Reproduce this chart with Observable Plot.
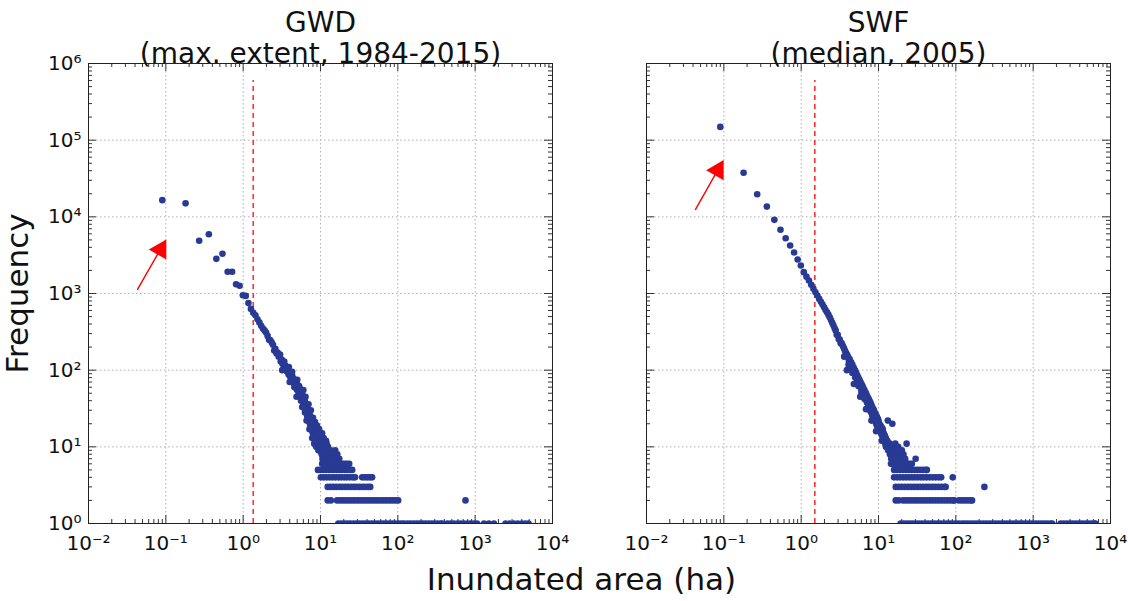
<!DOCTYPE html>
<html>
<head>
<meta charset="utf-8">
<script src="https://cdn.jsdelivr.net/npm/d3@7"></script>
<script src="https://cdn.jsdelivr.net/npm/@observablehq/plot@0.6"></script>
<style>
  html, body { margin: 0; padding: 0; background: #fff; }
  #chart { width: 1128px; height: 601px; }
</style>
</head>
<body>
<div id="chart"></div>
<script>
// ---- panels & text ----
const panelNames = ["GWD", "SWF"];
const panelSubtitles = ["(max. extent, 1984-2015)", "(median, 2005)"];
const xLabel = "Inundated area (ha)";
const yLabel = "Frequency";
const xTickValues = [0.01, 0.1, 1, 10, 100, 1000, 10000];
const yTickValues = [1, 10, 100, 1000, 10000, 100000, 1000000];

// ---- red dashed cut-off lines ----
const cutoffPanel = ["GWD", "SWF"];
const cutoffArea = [1.35, 1.5];
const cutoffTop = 6e5;

// ---- red arrows (start -> tip) ----
const arrowPanel = ["GWD", "SWF"];
const arrowX1 = [0.0427, 0.0427];
const arrowY1 = [1117, 12350];
const arrowX2 = [0.099, 0.097];
const arrowY2 = [4910, 53200];

// ---- GWD: head + main band ----
const gwdArea = [0.09,0.18,0.27,0.36,0.45,0.54,0.63,0.72,0.81,0.90,0.99,1.08,1.17,
  1.26,1.35,1.44,1.53,1.62,1.71,1.80,1.89,1.98,2.07,2.16,2.25,2.34,2.43,2.52,2.61,2.70,2.79,2.88,2.97,
  3.06,3.15,3.24,3.33,3.42,3.51,3.60,3.69,3.78,3.87,3.96,4.05,4.14,4.23,4.32,4.41,4.50,4.59,4.68,4.77,
  4.86,4.95,5.04,5.13,5.22,5.31,5.40,5.49,5.58,5.67,5.76,5.85,5.94,6.03,6.12,6.21,6.30,6.39,6.48,6.57,
  6.66,6.75,6.84,6.93,7.02,7.11,7.20,7.29,7.38,7.47,7.56,7.65,7.74,7.83,7.92,8.01,8.10,8.19,8.28,8.37,
  8.46,8.55,8.64,8.73,8.82,8.91,9.00,9.09,9.18,9.27,9.36,9.45,9.54,9.63,9.72,9.81,9.90,9.99,10.08,10.17,
  10.26,10.35,10.44,10.53,10.62,10.71,10.80,10.89,10.98,11.07,11.16,11.25,11.34,11.43];
const gwdFreq = [16500,15000,4870,5940,2830,3300,1920,1920,1320,1260,950,930,750,
  630,560,520,460,420,380,350,330,310,280,
  250,245,230,215,180,190,165,170,150,155,
  130,138,120,126,110,115,105,96,100,88,
  95,82,90,76,84,70,77,65,72,60,
  68,56,64,53,60,48,57,46,55,43,
  50,40,46,36,42,33,39,30,36,28,
  34,25,31,24,29,22,27,20,25,19,
  23,18,21,16,20,15,19,14,17,13,
  18,14,16,12,15,11,14,12,13,10,
  16,11,12,9,14,10,12,11,9,13,
  10,12,8,11,9,10,8,9,7,10,
  8,9,7,8];
// scattered points at the edges of the GWD band
const gwdSpreadArea = [3.0,3.4,3.2,3.9,4.3,4.0,4.6,5.0,5.3,4.9,5.6,6.0,6.4,5.8,6.3,7.0,6.6,7.5,7.2,8.0,8.5,7.8,8.3,9.0,9.6,8.8,9.4,10.5,11.0,11.8,12.5,13.5,14.5,15.5,16.5,17.5,12.0];
const gwdSpreadFreq = [160,130,100,110,95,70,60,75,62,45,40,55,45,33,28,36,22,30,17,24,21,13,11,19,17,10,9,15,13,12,10,9,8,9,8,7,11];
// GWD low-frequency rows (areas having that count)
const gwdRow9 = [10.2,10.8,11.5,12.1,12.9];
const gwdRow8 = [10.4,11.0,11.7,12.4,13.2,14.1];
const gwdRow7 = [10.6,11.3,12.0,12.7,13.5,14.4,15.3,16.2];
const gwdRow6 = [10.5,11.2,11.9,12.6,13.3,14.2,15.1,16.0,17.0,18.1,19.3,20.5,22.0,23.5];
const gwdRow5 = [9.27,10.0,10.9,11.8,12.8,13.9,15.0,16.3,17.6,19.1,20.7,22.4,24.3,25.7];
const gwdRow4 = [10.1,11.0,12.0,13.1,14.3,15.6,17.0,18.5,20.2,22.0,24.0,26.2,28.0,34.6,37.5,40.5,43.5,46.5];
const gwdRow3 = [12.4,13.5,14.7,16.0,17.5,19.0,20.7,22.6,24.6,26.8,29.2,31.8,34.7,37.8,41.2,44.0];
const gwdRow2 = [12.4,13.6,16.4,17.9,19.5,21.3,23.2,25.3,27.6,30.1,32.8,35.8,39.0,42.5,46.4,50.6,55.1,60.1,65.5,71.4,77.9,84.9,92.6,101,750];
const gwdRow1 = [17,18.6,20.3,22.2,24.3,26.6,29.1,31.8,34.8,38.0,41.6,45.5,49.7,54.4,59.4,65.0,71.1,77.7,85.0,92.9,
  102,111,121,133,145,159,174,190,208,227,248,272,297,325,355,375,
  435,480,530,590,650,720,800,880,970,1060,1300,1500,1750,2470,2800,3150,3550,4000,4450,4900];

// ---- SWF: head + main band ----
const swfArea = [0.09,0.18,0.27,0.36,0.45,0.54,0.63,0.72,0.81,0.90,0.99,1.08,
  1.17,1.26,1.35,1.44,1.53,1.62,1.71,1.80,1.89,1.98,
  2.07,2.16,2.25,2.34,2.43,2.52,2.61,2.70,2.79,2.88,
  2.97,3.06,3.15,3.24,3.33,3.42,3.51,3.60,3.69,3.78,
  3.87,3.96,4.05,4.14,4.23,4.32,4.41,4.50,4.59,4.68,
  4.77,4.86,4.95,5.04,5.13,5.22,5.31,5.40,5.49,5.58,
  5.67,5.76,5.85,5.94,6.03,6.12,6.21,6.30,6.39,6.48,
  6.57,6.66,6.75,6.84,6.93,7.02,7.11,7.20,7.29,7.38,
  7.47,7.56,7.65,7.74,7.83,7.92,8.01,8.10,8.19,8.28,
  8.37,8.46,8.55,8.64,8.73,8.82,8.91,9.00,9.09,9.18,
  9.27,9.36,9.45,9.54,9.63,9.72,9.81,9.90,9.99,
  10.08,10.26,10.44,10.62,10.80,10.98,11.16,11.34,11.52,11.70,11.88,12.06,12.24,12.42,12.60,
  12.78,12.96,13.14,13.32,13.50,13.68,13.86,14.04,14.22,14.40,14.58,
  13.2,15.1,23.1];
const swfFreq = [149000,37500,19700,13600,9140,6770,5260,4230,3430,2780,2320,1900,
  1660,1480,1300,1150,1040,940,850,780,720,660,
  610,570,530,490,450,415,385,355,330,290,
  290,255,250,225,225,213,200,190,178,170,
  162,155,148,133,140,120,128,110,118,100,
  108,92,100,85,93,78,86,72,80,67,
  75,62,70,58,66,54,62,50,58,47,
  55,44,52,42,49,39,46,37,44,35,
  42,33,40,31,38,29,36,28,34,26,
  32,25,31,24,30,23,28,22,27,21,
  26,20,25,19,24,18,23,18,22,
  17,20,16,19,15,18,14,17,13,15,12,14,11,13,10,
  12,10,11,9,11,9,10,8,10,9,8,
  22,20,11];
// scattered points at the edges of the SWF band
const swfSpreadArea = [3.6,4.1,3.9,4.6,5.0,4.8,5.5,6.0,5.8,6.6,7.2,6.9,7.8,8.4,8.1,9.2,9.8,9.3,10.6,11.5,11.0,12.2,13.0,12.5,14.0,15.0,16.0,17.5,19.5,21.0,16.5,18.0,20.0,22.0,24.0,27.0];
const swfSpreadFreq = [150,118,100,92,80,66,62,52,45,42,38,31,30,27,22,22,19,16,16,14,12,13,12,10,11,10,9,9,8,8,11,10,9,7,6,6];
const swfRow9 = [15.0,16.5,18.0];
const swfRow8 = [14.8,16.0,17.5,19.0];
const swfRow7 = [14.6,15.8,17.2,18.7,20.3,22.0,30.2];
const swfRow6 = [14.5,15.7,17.0,18.5,20.0,21.8,23.6,25.5];
const swfRow5 = [15.9,17.3,18.9,20.6,22.4,24.4,26.6,29.0,31.6,34.4,37.5,40.9,42.2];
const swfRow4 = [15.9,17.4,19.0,20.8,22.7,24.8,27.1,29.6,32.3,35.3,38.5,42.1,46.0,50.2,54.8,59.9,64.6,91.2];
const swfRow3 = [16.7,18.3,20.0,21.9,24.0,26.3,28.8,31.5,34.5,37.8,41.4,45.3,49.6,54.3,59.5,65.1,71.3,73.8,234];
const swfRow2 = [16.7,18.2,20.7,22.6,24.7,27.0,29.5,32.2,35.2,38.4,41.9,45.8,50.0,54.6,59.6,65.1,71.1,77.6,84.8,
  92.6,94.6,109.6,119.6,130.6,142.6,155.6,162];
const swfRow1 = [19.3,21.2,23.2,25.4,27.8,30.5,33.4,36.6,40.1,43.9,48.1,52.7,57.7,63.2,69.2,75.8,83.0,90.9,99.6,
  109,120,131,143,157,172,188,206,226,247,271,297,325,356,390,427,468,512,561,614,673,737,807,884,968,
  1060,1160,1270,1390,1520,1670,1760,2260,2480,2720,2980,3260,3570,3910,4280,4690,5140,5630,6170,6400];

// ---- build tables ----
const points = [];
function addSeries(panel, areas, freqs) {
  areas.forEach((a, i) => points.push({panel, area: a, freq: Array.isArray(freqs) ? freqs[i] : freqs}));
}
addSeries("GWD", gwdArea, gwdFreq);
addSeries("GWD", gwdSpreadArea, gwdSpreadFreq);
[[gwdRow9,9],[gwdRow8,8],[gwdRow7,7],[gwdRow6,6],[gwdRow5,5],[gwdRow4,4],[gwdRow3,3],[gwdRow2,2],[gwdRow1,1]]
  .forEach(([a, f]) => addSeries("GWD", a, f));
addSeries("SWF", swfArea, swfFreq);
addSeries("SWF", swfSpreadArea, swfSpreadFreq);
[[swfRow9,9],[swfRow8,8],[swfRow7,7],[swfRow6,6],[swfRow5,5],[swfRow4,4],[swfRow3,3],[swfRow2,2],[swfRow1,1]]
  .forEach(([a, f]) => addSeries("SWF", a, f));

const cutoffs = cutoffPanel.map((p, i) => ({panel: p, area: cutoffArea[i]}));
const arrows = arrowPanel.map((p, i) => ({panel: p, x1: arrowX1[i], y1: arrowY1[i], x2: arrowX2[i], y2: arrowY2[i]}));

// minor ticks (axis decoration)
const xMinor = [], yMinor = [];
for (let k = -2; k <= 3; k++) for (let m = 2; m <= 9; m++) xMinor.push(m * Math.pow(10, k));
for (let k = 0; k <= 5; k++) for (let m = 2; m <= 9; m++) yMinor.push(m * Math.pow(10, k));

const sup = {"-": "\u207B", "0": "\u2070", "1": "\u00B9", "2": "\u00B2", "3": "\u00B3", "4": "\u2074", "5": "\u2075", "6": "\u2076"};
const pow10 = d => "10" + String(Math.round(Math.log10(d))).split("").map(c => sup[c]).join("");
const titleOf = d => { const i = panelNames.indexOf(d); return panelNames[i] + "\n" + panelSubtitles[i]; };

const W = 464, H = 460; // frame size in px
const tickColor = "#333";

const chart = Plot.plot({
  width: 1128,
  height: 601,
  marginLeft: 88,
  marginRight: 18,
  marginTop: 63,
  marginBottom: 78,
  style: {fontFamily: "'DejaVu Sans', sans-serif", background: "#fff", color: "#111"},
  fx: {domain: panelNames, paddingInner: 0.1685, paddingOuter: 0, round: false, label: null},
  x: {type: "log", domain: [0.01, 10000]},
  y: {type: "log", domain: [1, 1000000]},
  marks: [
    Plot.gridX(xTickValues, {stroke: "#b0b0b0", strokeOpacity: 1, strokeDasharray: "1.5,2.5"}),
    Plot.gridY(yTickValues, {stroke: "#b0b0b0", strokeOpacity: 1, strokeDasharray: "1.5,2.5"}),
    // inward ticks
    Plot.tickX(xMinor, {x: d => d, insetTop: H - 4, stroke: tickColor}),
    Plot.tickX(xMinor, {x: d => d, insetBottom: H - 4, stroke: tickColor}),
    Plot.tickX(xTickValues, {x: d => d, insetTop: H - 8, stroke: tickColor}),
    Plot.tickX(xTickValues, {x: d => d, insetBottom: H - 8, stroke: tickColor}),
    Plot.tickY(yMinor, {y: d => d, insetRight: W - 4, stroke: tickColor}),
    Plot.tickY(yMinor, {y: d => d, insetLeft: W - 4, stroke: tickColor}),
    Plot.tickY(yTickValues, {y: d => d, insetRight: W - 8, stroke: tickColor}),
    Plot.tickY(yTickValues, {y: d => d, insetLeft: W - 8, stroke: tickColor}),
    Plot.ruleX(cutoffs, {x: "area", fx: "panel", y1: 1, y2: cutoffTop, stroke: "#ff3030", strokeWidth: 1.6, strokeDasharray: "5,4"}),
    Plot.dot(points, {x: "area", y: "freq", fx: "panel", r: 3.3, fill: "#283a94", clip: true}),
    Plot.frame({stroke: "#222", strokeWidth: 1}),
    Plot.link(arrows, {x1: "x1", y1: "y1", x2: "x2", y2: "y2", fx: "panel", stroke: "#ff0000", strokeWidth: 1.4}),
    Plot.dot(arrows, {x: "x2", y: "y2", fx: "panel", symbol: "triangle", r: 7.5, fill: "#ff0000", rotate: 30, dx: -5, dy: 9}),
    Plot.axisFx({anchor: "top", tickFormat: titleOf, fontSize: 28, tickSize: 0, tickPadding: 1, label: null, lineHeight: 1.1}),
    Plot.axisX({ticks: xTickValues, tickFormat: pow10, fontSize: 20, tickSize: 0, tickPadding: 12, label: null}),
    Plot.axisY({ticks: yTickValues, tickFormat: pow10, fontSize: 20, tickSize: 0, tickPadding: 7, label: null}),
    Plot.text([yLabel], {fx: ["GWD"], frameAnchor: "left", dx: -70, rotate: -90, textAnchor: "middle", lineAnchor: "middle", fontSize: 31}),
    Plot.text([xLabel], {fx: ["GWD"], frameAnchor: "bottom", dx: 261, dy: 57, textAnchor: "middle", lineAnchor: "middle", fontSize: 31})
  ]
});
document.getElementById("chart").appendChild(chart);
</script>
</body>
</html>
